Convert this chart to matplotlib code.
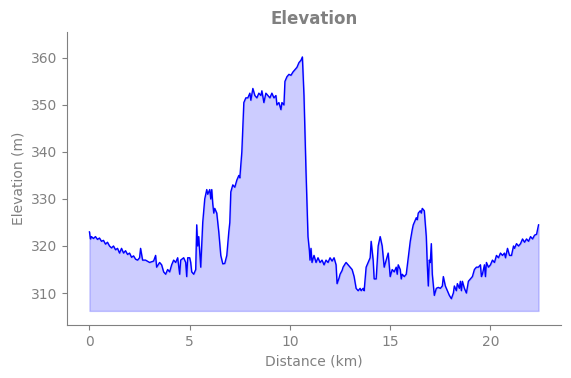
import matplotlib
matplotlib.use("Agg")
from matplotlib import pyplot as plt

# distance along the route (km) and elevation (m)
distance = [0.0, 0.05, 0.1, 0.2, 0.3, 0.4, 0.5, 0.6, 0.7, 0.8, 0.9, 1.0, 1.1, 1.2, 1.3, 1.4,
            1.5, 1.6, 1.7, 1.8, 1.9, 2.0, 2.1, 2.2, 2.3, 2.4,
            2.5, 2.55, 2.65, 2.8, 3.0, 3.2, 3.3, 3.35, 3.5, 3.6, 3.7, 3.8, 3.9, 4.0, 4.1, 4.2,
            4.3, 4.4, 4.5, 4.55, 4.7, 4.8, 4.85, 4.9, 5.0, 5.05, 5.1, 5.2, 5.3, 5.35, 5.4, 5.45,
            5.55, 5.65, 5.75, 5.85, 5.9, 6.0, 6.05, 6.1, 6.15, 6.2, 6.25, 6.35, 6.45, 6.55, 6.65,
            6.75, 6.85, 6.95, 7.0, 7.05, 7.15, 7.25, 7.35, 7.45, 7.5, 7.6, 7.7, 7.8, 7.9, 8.0,
            8.05, 8.15, 8.25, 8.35, 8.45, 8.55, 8.6, 8.7, 8.8, 8.9, 9.0, 9.1, 9.2, 9.3, 9.35,
            9.45, 9.55, 9.6, 9.7, 9.75, 9.85, 9.95, 10.05, 10.15, 10.25, 10.35, 10.45, 10.55,
            10.62, 10.7, 10.8, 10.9, 10.97, 11.0, 11.05, 11.1, 11.2, 11.3, 11.4, 11.5, 11.6,
            11.7, 11.8, 11.9, 12.0, 12.1, 12.2, 12.3, 12.35, 12.45, 12.5, 12.6, 12.65, 12.75,
            12.8, 12.9, 13.0, 13.1, 13.2, 13.3, 13.4, 13.5, 13.55, 13.65, 13.7, 13.8, 13.9,
            14.0, 14.05, 14.15, 14.2, 14.3, 14.4, 14.5, 14.6, 14.7, 14.8, 14.9, 14.95, 15.0,
            15.1, 15.2, 15.3, 15.35, 15.4, 15.5, 15.55, 15.6, 15.7, 15.8, 15.9, 16.0, 16.1,
            16.15, 16.2, 16.3, 16.35, 16.4, 16.5, 16.55, 16.6, 16.7, 16.8, 16.85, 16.9, 16.95,
            17.0, 17.05, 17.1, 17.2, 17.3, 17.4, 17.5, 17.6, 17.65, 17.75, 17.85, 17.95, 18.05,
            18.15, 18.2, 18.3, 18.35, 18.45, 18.5, 18.55, 18.6, 18.7, 18.8, 18.9, 19.0, 19.1,
            19.2, 19.3, 19.4, 19.5, 19.55, 19.6, 19.7, 19.75, 19.8, 19.9, 20.0, 20.1, 20.2,
            20.3, 20.4, 20.5, 20.6, 20.7, 20.75, 20.85, 20.95, 21.05, 21.15, 21.2, 21.3, 21.4,
            21.5, 21.6, 21.7, 21.8, 21.9, 22.0, 22.1, 22.2, 22.3, 22.4]
elevation = [323.0, 321.5, 322.0, 321.6, 322.0, 321.4, 321.7, 321.0, 321.2, 320.4, 320.8, 320.0,
             319.6, 320.0, 319.2, 319.5, 318.5, 319.5, 318.5, 319.0, 318.2, 318.5, 317.6, 317.9,
             317.2, 317.0, 317.5, 319.5, 317.0, 317.0, 316.5, 316.8, 318.0, 315.5,
             316.5, 316.0, 314.5, 314.0, 315.0, 314.5, 316.0, 317.0, 316.5, 317.5, 314.0, 317.0,
             317.5, 316.5, 313.5, 317.5, 317.5, 316.5, 314.5, 314.0, 315.0, 324.5, 320.0, 322.0,
             315.5, 325.0, 330.0, 332.0, 331.0, 332.0, 330.0, 332.0, 329.0, 327.0, 328.0, 327.0,
             323.0, 318.0, 316.2, 316.3, 318.0, 323.0, 325.0, 331.5, 333.0, 332.5, 334.0, 335.0,
             334.5, 340.0, 350.5, 351.5, 351.5, 352.5, 351.0, 353.5, 352.0, 351.5, 352.5, 352.0,
             353.0, 350.5, 352.5, 352.0, 351.5, 352.5, 351.5, 352.0, 350.0, 350.5, 349.0, 350.5,
             350.0, 355.0, 356.0, 356.5, 356.3, 357.0, 357.5, 358.0, 359.0, 359.5,
             360.2, 352.0, 336.0, 322.0, 319.0, 317.0, 319.5, 316.5, 318.0, 316.5, 317.5, 316.5,
             317.0, 316.0, 317.0, 316.5, 317.5, 316.8, 317.5, 316.0, 312.0, 313.2, 314.0, 314.8,
             315.5, 316.2, 316.5, 316.0, 315.5, 315.0, 313.5, 311.0, 310.5, 311.0, 310.5, 311.0,
             310.5, 315.5, 316.5, 317.5, 321.0, 317.0, 313.0, 313.0, 320.0, 322.0, 320.0, 315.5,
             317.0, 318.5, 316.0, 313.5, 315.0, 314.5, 315.5, 314.0, 316.0, 315.0, 313.0, 314.0,
             313.5, 314.0, 317.5, 321.0, 323.5, 324.5, 325.0, 326.0, 325.6, 327.0, 327.5, 327.0,
             328.0, 327.5, 322.0, 316.0, 311.5, 317.0, 316.5, 320.5, 314.0, 309.5, 311.0, 311.2,
             311.0, 311.5, 313.5, 311.5, 310.5, 309.5, 308.8, 310.0, 311.5, 310.5, 312.0, 311.0,
             312.5, 310.5, 312.5, 311.0, 310.0, 312.5, 313.0, 313.5, 315.0, 315.5, 315.5, 316.0,
             313.5, 314.0, 316.0, 313.5, 316.5, 315.5, 316.0, 317.0, 316.5, 318.0, 317.5, 318.5,
             318.0, 318.5, 317.5, 319.5, 318.0, 318.0, 320.0, 319.5, 320.5, 320.0, 320.5, 321.5,
             320.8, 321.5, 321.0, 322.0, 321.5, 322.3, 322.5, 324.5]
fill_base = 306.2

grey = "#808080"

fig = plt.figure(figsize=(5.71, 3.78), dpi=100)
ax = fig.add_axes([0.1173, 0.1402, 0.8652, 0.7751])

ax.plot(distance, elevation, color="blue", linewidth=1.0)
ax.fill_between(distance, elevation, fill_base, color="blue", alpha=0.2)

ax.set_ylim(303.2, 365.5)
ax.set_title("Elevation", color=grey, fontsize=12, fontweight="bold")
ax.set_xlabel("Distance (km)", color=grey)
ax.set_ylabel("Elevation (m)", color=grey)

ax.spines["top"].set_visible(False)
ax.spines["right"].set_visible(False)
for s in ["left", "bottom"]:
    ax.spines[s].set_color(grey)
ax.tick_params(colors=grey)

fig.savefig("out.png", dpi=100)
